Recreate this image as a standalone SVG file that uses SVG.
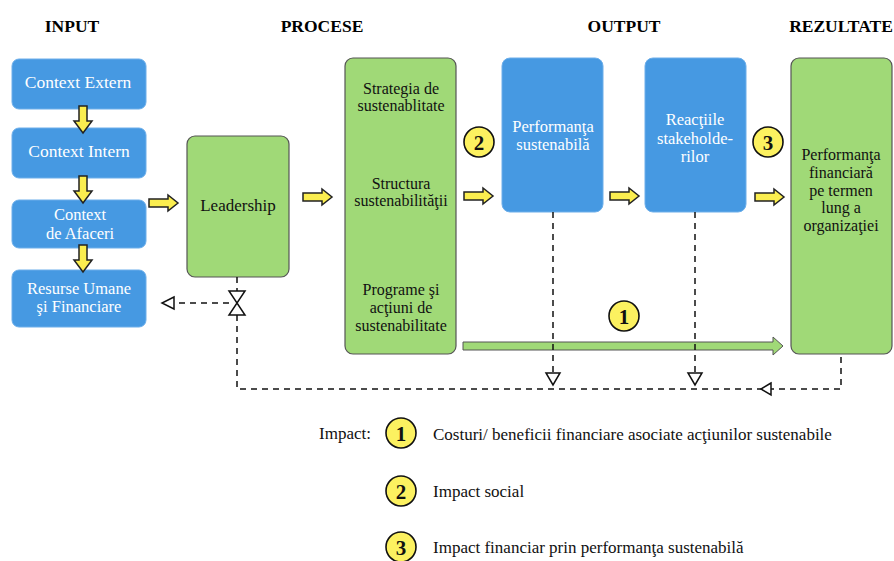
<svg xmlns="http://www.w3.org/2000/svg" width="894" height="561" viewBox="0 0 894 561">
<defs>
<style>
text{font-family:"Liberation Serif","Times New Roman",serif;}
.title{font-size:17.5px;font-weight:bold;fill:#000;text-anchor:middle;}
.blue{fill:#4699e2;stroke:#6caeea;stroke-width:1;}
.green{fill:#a0d977;stroke:#555;stroke-width:1.2;}
.wt{font-size:17.5px;fill:#fff;text-anchor:middle;}
.wm{font-size:16.5px;fill:#fff;text-anchor:middle;}
.bt{font-size:17px;fill:#111;text-anchor:middle;}
.bm{font-size:16px;fill:#111;text-anchor:middle;}
.ya{fill:#fbee4f;stroke:#222;stroke-width:1.5;stroke-linejoin:miter;}
.circ{fill:#fcf160;stroke:#111;stroke-width:1.6;}
.num{font-size:21px;font-weight:bold;fill:#111;text-anchor:middle;}
.dash{fill:none;stroke:#111;stroke-width:1.5;stroke-dasharray:6,5;}
.open{fill:#fff;stroke:#111;stroke-width:1.5;}
.lt{font-size:17px;fill:#111;}
</style>
<path id="ha" d="M0,-4 L19,-4 L19,-8 L29,0 L19,8 L19,4 L0,4 Z"/>
<path id="va" d="M-4,0 L4,0 L4,15 L9,15 L0,27 L-9,15 L-4,15 Z"/>
</defs>

<text class="title" x="72" y="32">INPUT</text>
<text class="title" x="322" y="32">PROCESE</text>
<text class="title" x="624" y="32">OUTPUT</text>
<text class="title" x="841" y="32">REZULTATE</text>

<g id="context-extern"><rect class="blue" x="12" y="59" width="134" height="50" rx="7"/><text class="wt" x="78" y="88">Context Extern</text></g>
<g id="context-intern"><rect class="blue" x="12" y="128" width="134" height="50" rx="7"/><text class="wt" x="79" y="157">Context Intern</text></g>
<g id="context-afaceri"><rect class="blue" x="12" y="200" width="134" height="48" rx="7"/><text class="wm" x="80" y="220">Context</text><text class="wm" x="80" y="239">de Afaceri</text></g>
<g id="resurse"><rect class="blue" x="12" y="270" width="134" height="57" rx="7"/><text class="wm" x="79" y="293.5">Resurse Umane</text><text class="wm" x="79" y="312">şi Financiare</text></g>

<g id="leadership"><rect class="green" x="187" y="136" width="102" height="141" rx="8"/><text class="bt" x="238" y="211">Leadership</text></g>

<g id="procese"><rect class="green" x="345" y="58" width="111" height="296" rx="8"/>
<text class="bm" x="401" y="93.5">Strategia de</text><text class="bm" x="401" y="111.3">sustenablitate</text>
<text class="bm" x="401" y="188.5">Structura</text><text class="bm" x="401" y="206.3">sustenabilităţii</text>
<text class="bm" x="401" y="295">Programe şi</text><text class="bm" x="401" y="312.8">acţiuni de</text><text class="bm" x="401" y="330.6">sustenabilitate</text></g>

<g id="performanta-sustenabila"><rect class="blue" x="502" y="58" width="101" height="154" rx="8"/><text class="wm" x="553" y="131.5">Performanţa</text><text class="wm" x="553" y="150">sustenabilă</text></g>

<g id="reactiile"><rect class="blue" x="645" y="58" width="101" height="154" rx="8"/><text class="wm" x="695" y="125">Reacţiile</text><text class="wm" x="695" y="143.5">stakeholde-</text><text class="wm" x="695" y="162">rilor</text></g>

<g id="performanta-financiara"><rect class="green" x="791" y="58" width="101" height="296" rx="8"/>
<text class="bm" x="841" y="160">Performanţa</text><text class="bm" x="841" y="177.8">financiară</text><text class="bm" x="841" y="195.6">pe termen</text><text class="bm" x="841" y="213.4">lung a</text><text class="bm" x="841" y="231.2">organizaţiei</text></g>

<g id="connectors">
<use href="#va" class="ya" x="83" y="106"/>
<use href="#va" class="ya" x="83" y="176"/>
<use href="#va" class="ya" x="83" y="245"/>
<use href="#ha" class="ya" x="149" y="203"/>
<use href="#ha" class="ya" x="303" y="197"/>
<use href="#ha" class="ya" x="464" y="196"/>
<use href="#ha" class="ya" x="610" y="196"/>
<use href="#ha" class="ya" x="755" y="197"/>

<path d="M463,342 L773,342 L773,337 L783,346 L773,355 L773,350 L463,350 Z" fill="#a0d977" stroke="#555" stroke-width="1"/>

<path class="dash" d="M237,277 L237,291"/>
<path class="dash" d="M229,303 L174,303"/>
<path class="open" d="M174,297 L162,303 L174,309 Z"/>
<path class="dash" d="M237,315 L237,389 L841,389 L841,354"/>
<path class="open" d="M229,291 L245,291 L229,315 L245,315 Z"/>
<path class="open" d="M771,383 L761,389 L771,395 Z"/>
<path class="dash" d="M553,212 L553,373"/>
<path class="open" d="M546,373 L560,373 L553,385 Z"/>
<path class="dash" d="M695,212 L695,373"/>
<path class="open" d="M688,373 L702,373 L695,385 Z"/>
</g>

<g id="impact-2"><circle class="circ" cx="479" cy="142" r="15"/><text class="num" x="479" y="149.5">2</text></g>
<g id="impact-3"><circle class="circ" cx="768" cy="142" r="15"/><text class="num" x="768" y="149.5">3</text></g>
<g id="impact-1"><circle class="circ" cx="624" cy="316" r="15"/><text class="num" x="624" y="323.5">1</text></g>

<g id="legend">
<text class="lt" x="319" y="439">Impact:</text>
<circle class="circ" cx="401" cy="433" r="15"/><text class="num" x="401" y="440.5">1</text>
<text class="lt" x="433" y="440">Costuri/ beneficii financiare asociate acţiunilor sustenabile</text>
<circle class="circ" cx="401" cy="491" r="15"/><text class="num" x="401" y="498.5">2</text>
<text class="lt" x="433" y="497">Impact social</text>
<circle class="circ" cx="401" cy="547" r="15"/><text class="num" x="401" y="554.5">3</text>
<text class="lt" x="433" y="553">Impact financiar prin performanţa sustenabilă</text>
</g>
</svg>
